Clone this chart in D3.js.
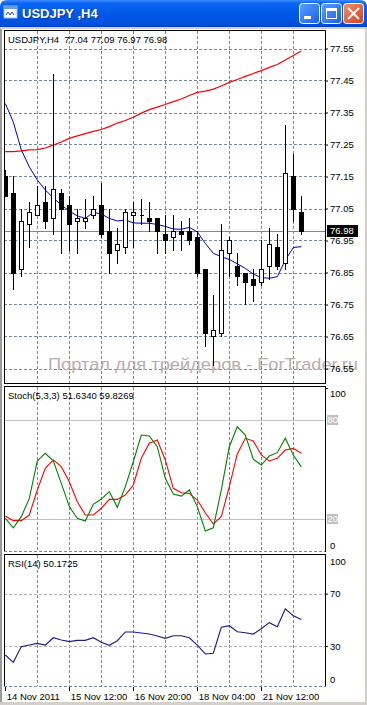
<!DOCTYPE html>
<html>
<head>
<meta charset="utf-8">
<script src="https://cdn.jsdelivr.net/npm/d3@7"></script>
<style>
html, body { margin: 0; padding: 0; background: #fff; overflow: hidden; }
text { font-family: "Liberation Sans", Arial, sans-serif; }
</style>
</head>
<body>
<div id="container"></div>
<script>
"use strict";

// H4 bars shown on the chart
const times = [
    "2011.11.14 04:00", "2011.11.14 08:00", "2011.11.14 12:00", "2011.11.14 16:00", "2011.11.14 20:00",
    "2011.11.15 00:00", "2011.11.15 04:00", "2011.11.15 08:00", "2011.11.15 12:00", "2011.11.15 16:00",
    "2011.11.15 20:00", "2011.11.16 00:00", "2011.11.16 04:00", "2011.11.16 08:00", "2011.11.16 12:00",
    "2011.11.16 16:00", "2011.11.16 20:00", "2011.11.17 00:00", "2011.11.17 04:00", "2011.11.17 08:00",
    "2011.11.17 12:00", "2011.11.17 16:00", "2011.11.17 20:00", "2011.11.18 00:00", "2011.11.18 04:00",
    "2011.11.18 08:00", "2011.11.18 12:00", "2011.11.18 16:00", "2011.11.18 20:00", "2011.11.21 00:00",
    "2011.11.21 04:00", "2011.11.21 08:00", "2011.11.21 12:00", "2011.11.21 16:00", "2011.11.21 20:00",
    "2011.11.22 00:00", "2011.11.22 04:00", "2011.11.22 08:00"
];

const open = [77.15, 77.10, 76.86, 77.00, 77.03, 77.07, 77.02, 77.10, 77.06, 77.01,
    77.01, 77.03, 77.06, 76.98, 76.92, 76.93, 77.03, 77.03, 77.02, 77.02,
    76.97, 76.96, 76.98, 76.98, 76.96, 76.86, 76.65, 76.66, 76.91, 76.87,
    76.85, 76.83, 76.82, 76.87, 76.93, 76.88, 77.15, 77.04];
const high = [77.17, 77.15, 77.05, 77.07, 77.12, 77.12, 77.47, 77.11, 77.09, 77.05,
    77.08, 77.09, 77.13, 77.05, 76.99, 77.05, 77.07, 77.08, 77.07, 77.02,
    77.03, 77.03, 77.01, 77.02, 76.98, 76.86, 76.78, 77.00, 76.96, 76.91,
    76.85, 76.86, 76.95, 76.99, 76.97, 77.31, 77.22, 77.09];
const low = [77.09, 76.80, 76.84, 76.93, 77.03, 76.99, 76.97, 76.91, 76.92, 76.91,
    76.99, 77.02, 76.96, 76.85, 76.88, 76.91, 76.93, 77.00, 76.98, 76.91,
    76.91, 76.92, 76.92, 76.94, 76.84, 76.62, 76.56, 76.65, 76.84, 76.81,
    76.75, 76.76, 76.81, 76.83, 76.86, 76.86, 77.01, 76.97];
const close = [77.09, 76.85, 77.01, 77.04, 77.06, 77.01, 77.11, 77.05, 77.00, 77.02,
    77.02, 77.05, 76.97, 76.91, 76.94, 77.04, 77.04, 77.03, 77.01, 76.98,
    76.95, 76.98, 76.97, 76.95, 76.85, 76.66, 76.67, 76.92, 76.95, 76.84,
    76.82, 76.81, 76.86, 76.94, 76.87, 77.16, 77.05, 76.98];

// moving averages (red = slow, blue = fast)
const maSlow = [77.228, 77.228, 77.230, 77.233, 77.234, 77.239, 77.248, 77.258, 77.269, 77.277,
    77.284, 77.291, 77.297, 77.306, 77.317, 77.325, 77.335, 77.348, 77.359, 77.367,
    77.375, 77.384, 77.392, 77.403, 77.413, 77.417, 77.423, 77.433, 77.444, 77.453,
    77.463, 77.472, 77.481, 77.491, 77.500, 77.514, 77.528, 77.542];
const maFast = [77.378, 77.320, 77.233, 77.180, 77.139, 77.108, 77.083, 77.061, 77.042, 77.027,
    77.019, 77.038, 77.033, 77.019, 77.011, 77.014, 77.005, 77.004, 77.004, 77.000,
    76.994, 76.986, 76.985, 76.991, 76.977, 76.941, 76.910, 76.899, 76.891, 76.877,
    76.863, 76.845, 76.834, 76.832, 76.837, 76.889, 76.928, 76.931];

// Stoch(5,3,3)
const stochMain = [20.4, 14.7, 21.4, 32.5, 55.2, 59.8, 55.2, 41.6, 27.5, 20.4,
    18.8, 28.9, 32.1, 36.6, 27.1, 39.6, 54.7, 70.9, 70.3, 63.8,
    44.7, 35.2, 33.9, 37.6, 27.5, 12.7, 14.7, 37.6, 63.8, 75.9,
    70.9, 56.2, 52.7, 58.2, 60.2, 68.9, 58.8, 51.6];
const stochSignal = [21.8, 19.0, 19.0, 22.4, 37.6, 50.7, 55.8, 51.7, 42.6, 30.5,
    22.4, 22.4, 26.5, 31.9, 31.9, 34.5, 40.6, 56.8, 65.9, 67.9,
    55.8, 38.6, 35.9, 35.5, 31.5, 23.8, 17.0, 21.4, 39.6, 59.4,
    68.9, 67.3, 58.8, 55.2, 56.8, 61.8, 62.8, 59.8];

// RSI(14)
const rsi = [23.1, 17.5, 29.4, 30.7, 32.0, 30.7, 36.3, 34.6, 33.3, 34.3,
    34.3, 36.3, 32.8, 30.5, 34.0, 40.7, 40.7, 39.9, 39.1, 37.6,
    35.8, 37.8, 37.8, 36.3, 30.7, 23.9, 24.4, 44.3, 45.5, 40.9,
    40.1, 39.1, 43.2, 47.8, 44.7, 58.3, 53.1, 50.2];

const priceTicks = [77.55, 77.45, 77.35, 77.25, 77.15, 77.05, 76.95, 76.85, 76.75, 76.65, 76.55];
const lastPrice = 76.98;
const stochLevels = [80, 20];
const rsiLevels = [70, 30];
const dateTicks = ["2011.11.14 04:00", "2011.11.15 12:00", "2011.11.16 20:00", "2011.11.18 04:00", "2011.11.21 12:00"];
const dateLabels = ["14 Nov 2011", "15 Nov 12:00", "16 Nov 20:00", "18 Nov 04:00", "21 Nov 12:00"];

const W = 367, H = 705;
const left = 4, right = 325;
const mainTop = 30, mainBottom = 384;
const stTop = 386, stBottom = 552;
const rsiTop = 554, rsiBottom = 686;
const gridColor = "#778899";
const fontSize = "9.5px";

const svg = d3.select("#container").append("svg")
    .attr("width", W).attr("height", H);

const defs = svg.append("defs");
const tb = defs.append("linearGradient").attr("id", "tb").attr("x1", 0).attr("x2", 0).attr("y1", 0).attr("y2", 1);
[["0%", "#3b8dff"], ["12%", "#0a64f4"], ["50%", "#0058e8"], ["88%", "#0052dc"], ["100%", "#0040c8"]]
    .forEach(([o, c]) => tb.append("stop").attr("offset", o).attr("stop-color", c));
const btn = defs.append("linearGradient").attr("id", "btn").attr("x1", 0).attr("x2", 1).attr("y1", 0).attr("y2", 1);
btn.append("stop").attr("offset", "0%").attr("stop-color", "#5aa0ff");
btn.append("stop").attr("offset", "100%").attr("stop-color", "#1a5ee8");
const btnRed = defs.append("linearGradient").attr("id", "btnRed").attr("x1", 0).attr("x2", 1).attr("y1", 0).attr("y2", 1);
btnRed.append("stop").attr("offset", "0%").attr("stop-color", "#f09070");
btnRed.append("stop").attr("offset", "100%").attr("stop-color", "#d0401c");

[["clipMain", mainTop, mainBottom], ["clipSt", stTop, stBottom], ["clipRsi", rsiTop, rsiBottom]]
    .forEach(([id, t, b]) => defs.append("clipPath").attr("id", id).append("rect")
        .attr("x", left + 1).attr("y", t + 1).attr("width", right - left - 1).attr("height", b - t - 1));

// window frame
svg.append("rect").attr("x", 0).attr("y", 0).attr("width", W).attr("height", H).attr("fill", "#fff");
svg.append("rect").attr("x", 0).attr("y", 27).attr("width", 2).attr("height", H - 27).attr("fill", "#9a9a9a");
svg.append("rect").attr("x", W - 2).attr("y", 27).attr("width", 2).attr("height", H - 27).attr("fill", "#d4d0c8");
svg.append("rect").attr("x", 0).attr("y", H - 3).attr("width", W).attr("height", 3).attr("fill", "#d4d0c8");
svg.append("rect").attr("x", 0).attr("y", 27).attr("width", W).attr("height", 2).attr("fill", "#d4d0c8");

// title bar
svg.append("path").attr("d", `M0,27V7Q0,0 7,0H${W - 7}Q${W},0 ${W},7V27Z`).attr("fill", "url(#tb)");
const icon = svg.append("g").attr("transform", "translate(4,6)");
icon.append("rect").attr("width", 13).attr("height", 12).attr("fill", "#fff").attr("stroke", "#9cc0f0");
icon.append("rect").attr("width", 13).attr("height", 3).attr("fill", "#6a9ee0");
icon.append("path").attr("d", "M2,9 L4,6 L6,9 L8,6 L10,9").attr("fill", "none").attr("stroke", "#2050b0");
svg.append("text").attr("x", 23).attr("y", 19).attr("fill", "#0a2470").attr("font-size", "13px")
    .attr("font-weight", "bold").attr("opacity", 0.6).text("USDJPY ,H4");
svg.append("text").attr("x", 22).attr("y", 18).attr("fill", "#fff").attr("font-size", "13px")
    .attr("font-weight", "bold").text("USDJPY ,H4");

const buttons = svg.append("g");
[[299, "url(#btn)"], [321, "url(#btn)"], [343, "url(#btnRed)"]].forEach(([bx, f]) => {
    buttons.append("rect").attr("x", bx + 0.5).attr("y", 3.5).attr("width", 20).attr("height", 20)
        .attr("rx", 3).attr("fill", f).attr("stroke", "#fff");
});
buttons.append("rect").attr("x", 304).attr("y", 16).attr("width", 7).attr("height", 3).attr("fill", "#fff");
buttons.append("rect").attr("x", 326.5).attr("y", 8.5).attr("width", 10).attr("height", 10)
    .attr("fill", "none").attr("stroke", "#fff");
buttons.append("rect").attr("x", 326).attr("y", 8).attr("width", 11).attr("height", 3).attr("fill", "#fff");
buttons.append("path").attr("d", "M348,8 L359,19 M359,8 L348,19").attr("stroke", "#fff").attr("stroke-width", 2);

// scales
const x = d3.scalePoint().domain(times).range([5.3, 301.3]);
const px = (t) => Math.floor(x(t)) + 0.5;
const yP = d3.scaleLinear().domain([76.55, 77.55]).range([368.5, 48.5]);
const yS = d3.scaleLinear().domain([0, 100]).range([552, 387]);
const yR = d3.scaleLinear().domain([0, 100]).range([685.2, 554.4]);

const gridTimes = times.filter((t, i) => i % 4 === 0 && i > 0);

function vGrid(g, top, bottom) {
    g.append("g").selectAll("line").data(gridTimes).join("line")
        .attr("x1", (d) => px(d)).attr("x2", (d) => px(d))
        .attr("y1", top).attr("y2", bottom)
        .attr("stroke", gridColor).attr("stroke-dasharray", "3,2")
        .attr("shape-rendering", "crispEdges");
}

// ---------- main panel ----------
const main = svg.append("g");
vGrid(main, mainTop + 1, mainBottom);
main.append("g").selectAll("line").data(priceTicks).join("line")
    .attr("x1", left).attr("x2", right)
    .attr("y1", (d) => Math.round(yP(d)) + 0.5).attr("y2", (d) => Math.round(yP(d)) + 0.5)
    .attr("stroke", gridColor).attr("stroke-dasharray", "3,2")
    .attr("shape-rendering", "crispEdges");

// watermark
main.append("text").attr("x", 48).attr("y", 370).attr("font-size", "17px")
    .attr("textLength", 310).attr("lengthAdjust", "spacingAndGlyphs")
    .attr("fill", "#bcadad").text("Портал для трейдеров - ForTrader.ru");

// last price line
main.append("line").attr("x1", left).attr("x2", right)
    .attr("y1", Math.round(yP(lastPrice)) + 0.5).attr("y2", Math.round(yP(lastPrice)) + 0.5)
    .attr("stroke", "#7a8a9a").attr("shape-rendering", "crispEdges");

const plot = main.append("g").attr("clip-path", "url(#clipMain)");
plot.append("path").datum(maSlow)
    .attr("d", d3.line().x((d, i) => x(times[i])).y((d) => yP(d)))
    .attr("fill", "none").attr("stroke", "#ff0000").attr("stroke-width", 1.2);
plot.append("path").datum(maFast)
    .attr("d", d3.line().x((d, i) => x(times[i])).y((d) => yP(d)))
    .attr("fill", "none").attr("stroke", "#0000cc").attr("stroke-width", 1);

const bars = times.map((t, i) => ({ t: t, o: open[i], h: high[i], l: low[i], c: close[i] }));

plot.append("g").selectAll("line").data(bars).join("line")
    .attr("x1", (d) => px(d.t)).attr("x2", (d) => px(d.t))
    .attr("y1", (d) => Math.round(yP(d.h))).attr("y2", (d) => Math.round(yP(d.l)) + 1)
    .attr("stroke", "#000").attr("shape-rendering", "crispEdges");

// bearish bodies
plot.append("g").selectAll("rect").data(bars.filter((d) => d.c < d.o)).join("rect")
    .attr("x", (d) => px(d.t) - 2.5)
    .attr("y", (d) => Math.round(yP(d.o)))
    .attr("width", 5)
    .attr("height", (d) => Math.max(1, Math.round(yP(d.c)) - Math.round(yP(d.o)) + 1))
    .attr("fill", "#000").attr("shape-rendering", "crispEdges");

// bullish bodies (and doji)
plot.append("g").selectAll("path").data(bars.filter((d) => d.c >= d.o)).join("path")
    .attr("d", (d) => {
        const x0 = px(d.t) - 2, y0 = Math.round(yP(d.c)) + 0.5, y1 = Math.round(yP(d.o)) + 0.5;
        return `M${x0},${y0}h4V${y1}h-4Z`;
    })
    .attr("fill", "#fff").attr("stroke", "#000").attr("shape-rendering", "crispEdges");

main.append("text").attr("x", 8).attr("y", 43).attr("font-size", fontSize)
    .attr("xml:space", "preserve").style("white-space", "pre")
    .text("USDJPY,H4  77.04 77.09 76.97 76.98");

// price axis
const priceAxis = main.append("g").attr("transform", `translate(${right},0)`)
    .call(d3.axisRight(yP).tickValues(priceTicks).tickSize(3).tickPadding(2).tickFormat(d3.format(".2f")));
priceAxis.select(".domain").remove();
priceAxis.selectAll(".tick text").attr("font-size", fontSize).attr("font-family", null).attr("fill", "#000");
priceAxis.selectAll(".tick line").attr("stroke", "#000");

main.append("rect").attr("x", 327).attr("y", Math.round(yP(lastPrice)) - 6)
    .attr("width", 31).attr("height", 12).attr("fill", "#000");
main.append("text").attr("x", 330).attr("y", yP(lastPrice)).attr("dy", "0.35em")
    .attr("font-size", fontSize).attr("fill", "#fff").text(d3.format(".2f")(lastPrice));

// ---------- stochastic panel ----------
const st = svg.append("g");
vGrid(st, stTop + 1, stBottom);
st.append("g").selectAll("line").data(stochLevels).join("line")
    .attr("x1", left).attr("x2", right)
    .attr("y1", (d) => Math.round(yS(d)) + 0.5).attr("y2", (d) => Math.round(yS(d)) + 0.5)
    .attr("stroke", "#c0c0c0").attr("shape-rendering", "crispEdges");
const stPlot = st.append("g").attr("clip-path", "url(#clipSt)");
stPlot.append("path").datum(stochSignal)
    .attr("d", d3.line().x((d, i) => x(times[i])).y((d) => yS(d)))
    .attr("fill", "none").attr("stroke", "#ff0000").attr("stroke-width", 1.1);
stPlot.append("path").datum(stochMain)
    .attr("d", d3.line().x((d, i) => x(times[i])).y((d) => yS(d)))
    .attr("fill", "none").attr("stroke", "#008000").attr("stroke-width", 1.1);
st.append("text").attr("x", 8).attr("y", 399).attr("font-size", fontSize)
    .text("Stoch(5,3,3) 51.6340 59.8269");

st.append("g").selectAll("rect").data(stochLevels).join("rect")
    .attr("x", 327).attr("y", (d) => Math.round(yS(d)) - 5).attr("width", 11).attr("height", 10)
    .attr("fill", "#c0c0c0");
st.append("g").selectAll("text").data(stochLevels).join("text")
    .attr("x", 327.5).attr("y", (d) => yS(d)).attr("dy", "0.35em")
    .attr("font-size", fontSize).attr("fill", "#fff").text((d) => d);
st.append("text").attr("x", 330).attr("y", 397).attr("font-size", fontSize).text("100");
st.append("text").attr("x", 330).attr("y", 549).attr("font-size", fontSize).text("0");
st.append("line").attr("x1", right).attr("x2", right + 3).attr("y1", stTop + 2.5).attr("y2", stTop + 2.5).attr("stroke", "#000");

// ---------- RSI panel ----------
const rp = svg.append("g");
vGrid(rp, rsiTop + 1, rsiBottom);
rp.append("g").selectAll("line").data(rsiLevels).join("line")
    .attr("x1", left).attr("x2", right)
    .attr("y1", (d) => Math.round(yR(d)) + 0.5).attr("y2", (d) => Math.round(yR(d)) + 0.5)
    .attr("stroke", "#b4b4b4").attr("stroke-dasharray", "3,2").attr("shape-rendering", "crispEdges");
rp.append("g").attr("clip-path", "url(#clipRsi)").append("path").datum(rsi)
    .attr("d", d3.line().x((d, i) => x(times[i])).y((d) => yR(d)))
    .attr("fill", "none").attr("stroke", "#1c1c88").attr("stroke-width", 1.1);
rp.append("text").attr("x", 8).attr("y", 567).attr("font-size", fontSize).text("RSI(14) 50.1725");

const rsiAxis = rp.append("g").attr("transform", `translate(${right},0)`)
    .call(d3.axisRight(yR).tickValues(rsiLevels).tickSize(3).tickPadding(2));
rsiAxis.select(".domain").remove();
rsiAxis.selectAll(".tick text").attr("font-size", fontSize).attr("font-family", null).attr("fill", "#000");
rsiAxis.selectAll(".tick line").attr("stroke", "#000");
rp.append("text").attr("x", 330).attr("y", 565).attr("font-size", fontSize).text("100");
rp.append("text").attr("x", 330).attr("y", 683).attr("font-size", fontSize).text("0");

// ---------- panel borders ----------
const borders = svg.append("g").attr("stroke", "#000").attr("shape-rendering", "crispEdges").attr("fill", "none");
borders.append("path").attr("d", `M${left + 0.5},${mainTop + 0.5}H${right + 0.5}V${mainBottom - 0.5}H${left + 0.5}Z`);
borders.append("path").attr("d", `M${left + 0.5},${stBottom - 0.5}V${stTop + 0.5}H${right + 0.5}V${stBottom - 0.5}`);
borders.append("path").attr("d", `M${left + 0.5},${rsiBottom}V${rsiTop + 0.5}H${right + 0.5}V${rsiBottom}`);
svg.append("line").attr("x1", left).attr("x2", right).attr("y1", stBottom - 0.5).attr("y2", stBottom - 0.5)
    .attr("stroke", gridColor).attr("stroke-dasharray", "3,2").attr("shape-rendering", "crispEdges");

// time axis
const timeAxis = svg.append("g").attr("transform", `translate(0,${rsiBottom + 0.5})`)
    .call(d3.axisBottom(x).tickValues(dateTicks).tickSize(4).tickPadding(3)
        .tickFormat((d, i) => dateLabels[i]));
timeAxis.select(".domain").attr("d", `M${left},0H${right + 1}`).attr("stroke", gridColor)
    .attr("stroke-dasharray", "3,2").attr("shape-rendering", "crispEdges");
timeAxis.selectAll(".tick line").attr("stroke", "#000").attr("shape-rendering", "crispEdges");
timeAxis.selectAll(".tick text").attr("font-size", fontSize).attr("font-family", null)
    .attr("text-anchor", "start").attr("dx", "0.1em").attr("fill", "#000");
</script>
</body>
</html>
